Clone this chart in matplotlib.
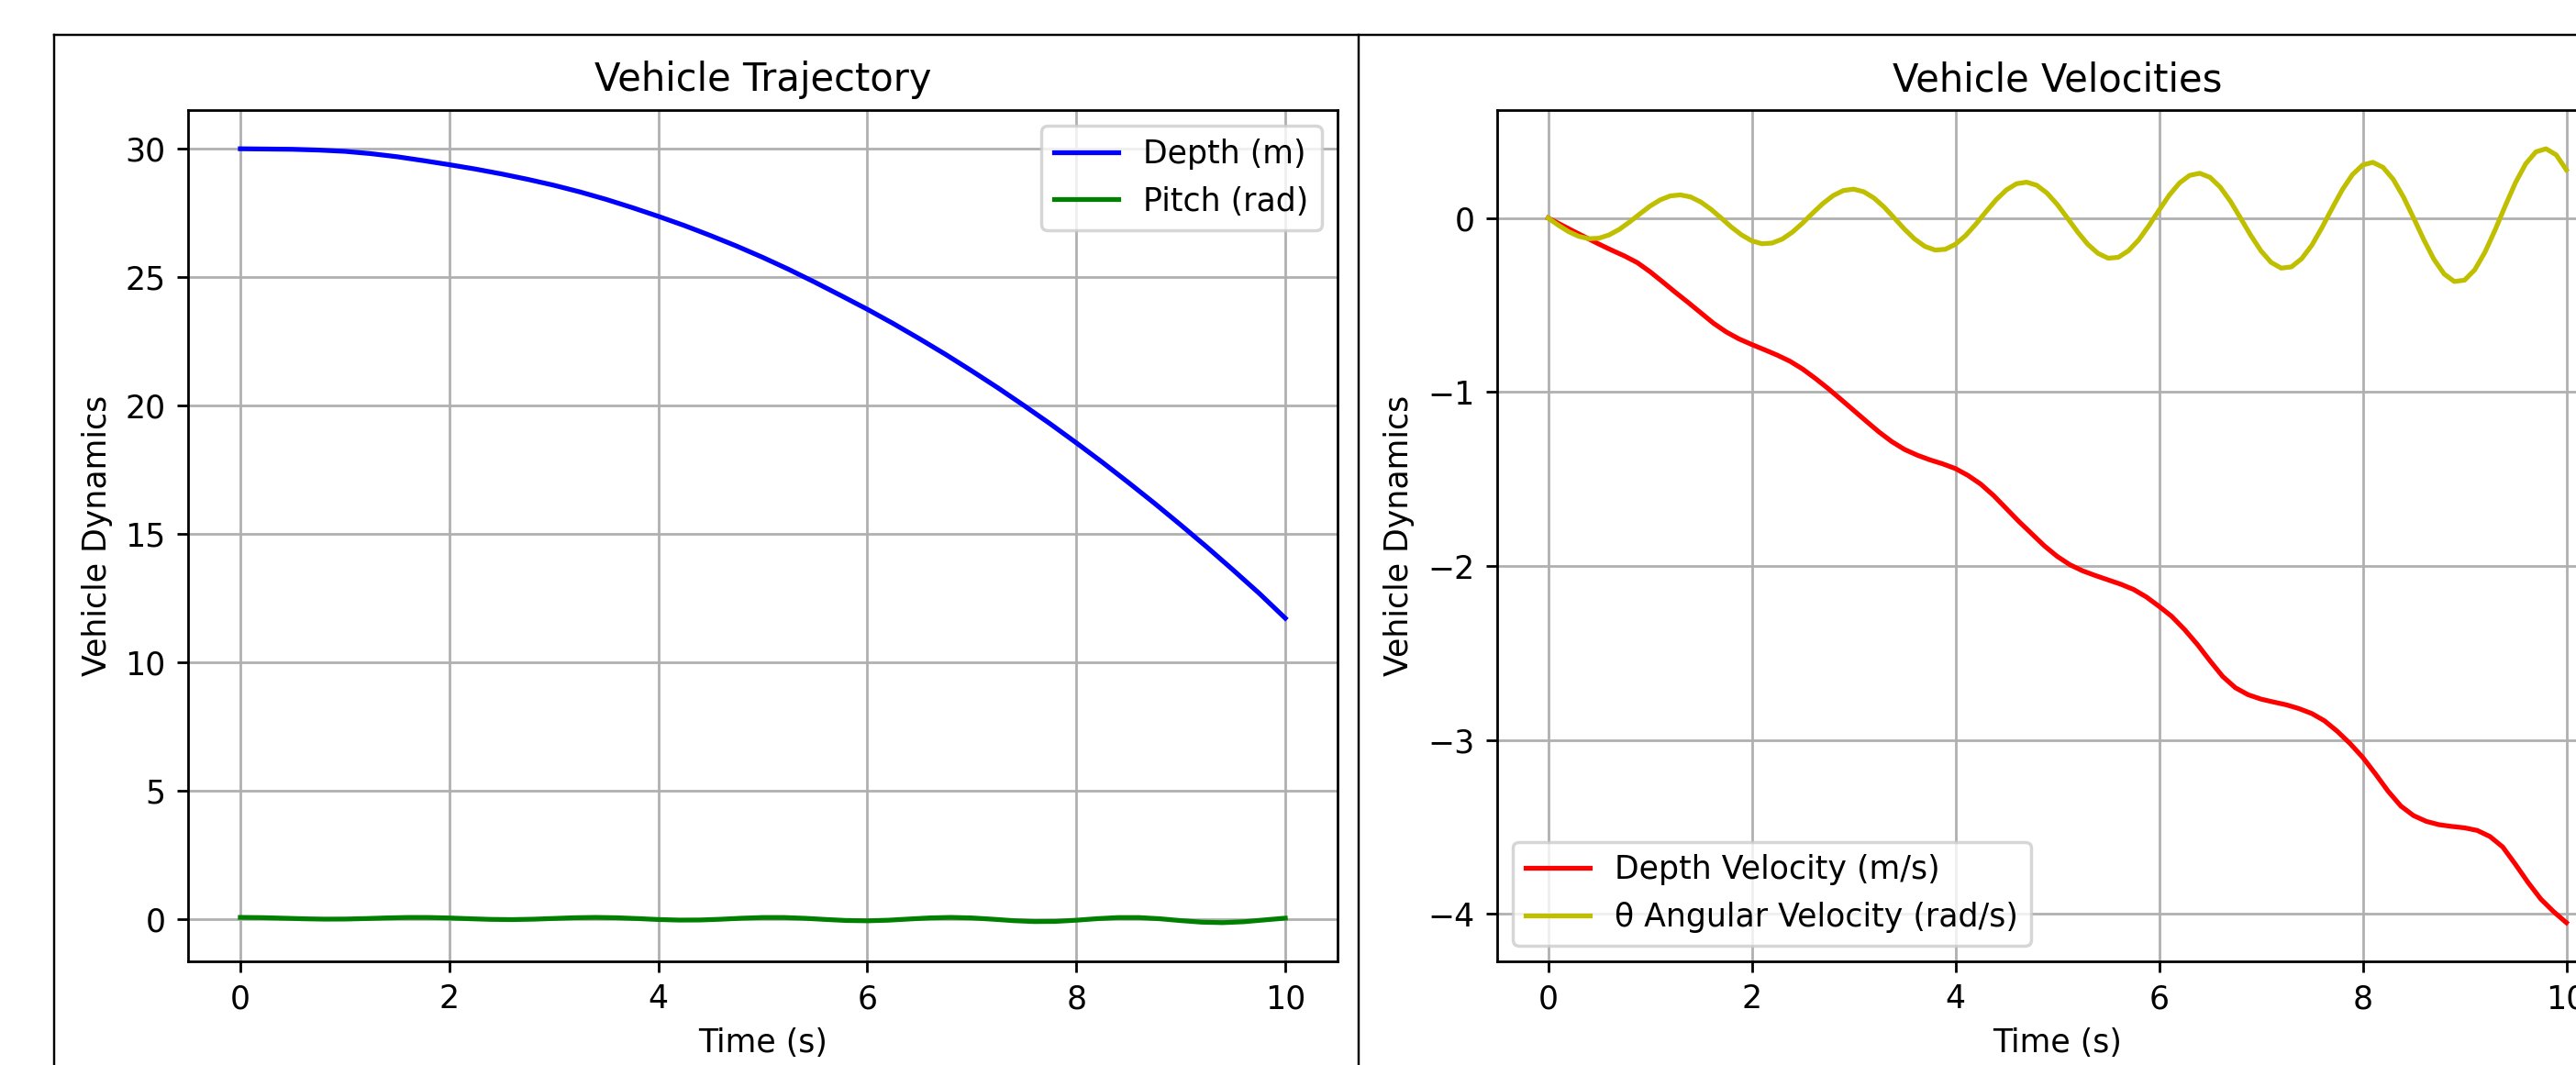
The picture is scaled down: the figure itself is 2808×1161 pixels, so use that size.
import matplotlib
matplotlib.use("Agg")
import matplotlib.pyplot as plt
import numpy as np
from matplotlib.lines import Line2D

# Time samples (s) for each series
t_depth = np.linspace(0, 10, 41)
t_pitch = np.linspace(0, 10, 51)
t_w = np.linspace(0, 10, 81)
t_q = np.linspace(0, 10, 101)

# Vehicle trajectory
depth = [30.00, 29.99, 29.98, 29.95, 29.90, 29.81, 29.69, 29.54, 29.38, 29.21,
         29.02, 28.81, 28.58, 28.32, 28.03, 27.71, 27.37, 27.01, 26.62, 26.21,
         25.77, 25.30, 24.80, 24.28, 23.75, 23.19, 22.60, 21.99, 21.35, 20.69,
         20.00, 19.29, 18.55, 17.79, 17.00, 16.19, 15.35, 14.49, 13.60, 12.69,
         11.72]

pitch = [0.070, 0.062, 0.041, 0.017, 0.003, 0.006, 0.025, 0.050, 0.068, 0.067,
         0.048, 0.018, -0.007, -0.015, 0.000, 0.029, 0.058, 0.070, 0.057, 0.025,
         -0.012, -0.034, -0.030, -0.001, 0.039, 0.066, 0.066, 0.036, -0.010, -0.050,
         -0.062, -0.039, 0.007, 0.051, 0.070, 0.050, 0.000, -0.057, -0.092, -0.085,
         -0.039, 0.021, 0.064, 0.064, 0.017, -0.054, -0.115, -0.134, -0.099, -0.028,
         0.041]

# Vehicle velocities
depth_vel = [0.000, -0.038, -0.076, -0.113, -0.150, -0.185, -0.218, -0.256, -0.308, -0.367,
             -0.427, -0.485, -0.545, -0.605, -0.655, -0.695, -0.727, -0.757, -0.788, -0.823,
             -0.868, -0.922, -0.980, -1.042, -1.105, -1.168, -1.230, -1.285, -1.330, -1.363,
             -1.390, -1.413, -1.440, -1.480, -1.530, -1.595, -1.670, -1.745, -1.815, -1.885,
             -1.945, -1.993, -2.028, -2.055, -2.080, -2.105, -2.135, -2.178, -2.232, -2.290,
             -2.365, -2.450, -2.545, -2.635, -2.700, -2.740, -2.765, -2.782, -2.798, -2.820,
             -2.848, -2.890, -2.950, -3.020, -3.100, -3.195, -3.295, -3.380, -3.435, -3.468,
             -3.487, -3.497, -3.505, -3.520, -3.555, -3.615, -3.715, -3.820, -3.915, -3.987,
             -4.050]

ang_vel = [0.000, -0.041, -0.078, -0.105, -0.119, -0.116, -0.097, -0.065, -0.023, 0.023,
           0.068, 0.104, 0.127, 0.133, 0.121, 0.092, 0.050, 0.000, -0.052, -0.097,
           -0.131, -0.148, -0.144, -0.121, -0.081, -0.029, 0.029, 0.084, 0.129, 0.158,
           0.166, 0.151, 0.115, 0.063, 0.000, -0.064, -0.121, -0.163, -0.184, -0.180,
           -0.151, -0.101, -0.036, 0.036, 0.105, 0.161, 0.197, 0.206, 0.188, 0.143,
           0.078, 0.000, -0.080, -0.151, -0.203, -0.231, -0.226, -0.188, -0.126, -0.044,
           0.045, 0.131, 0.201, 0.245, 0.257, 0.234, 0.178, 0.097, 0.000, -0.099,
           -0.188, -0.255, -0.288, -0.281, -0.234, -0.157, -0.055, 0.056, 0.163, 0.250,
           0.305, 0.320, 0.291, 0.222, 0.121, 0.000, -0.125, -0.238, -0.322, -0.365,
           -0.357, -0.298, -0.197, -0.069, 0.070, 0.203, 0.311, 0.380, 0.398, 0.363,
           0.277]

W, H, DPI = 2808, 1161, 250
fig = plt.figure(figsize=(W / DPI, H / DPI), dpi=DPI)


def px_axes(x0, x1, top, bottom):
    # axes box given in pixels measured from the top-left corner
    return fig.add_axes([x0 / W, 1 - bottom / H, (x1 - x0) / W, (bottom - top) / H])


# Frame lines around the panels (the picture is a crop)
frame = dict(color="black", linewidth=0.7, transform=fig.transFigure)
fig.add_artist(Line2D([59 / W, 1], [1 - 38 / H, 1 - 38 / H], **frame))
fig.add_artist(Line2D([59 / W, 59 / W], [0, 1 - 38 / H], **frame))
fig.add_artist(Line2D([1481 / W, 1481 / W], [0, 1 - 38 / H], **frame))

# Left: trajectory
ax1 = px_axes(205, 1458, 120, 1048)
ax1.plot(t_depth, depth, "b", label="Depth (m)")
ax1.plot(t_pitch, pitch, "g", label="Pitch (rad)")
ax1.set_xlabel("Time (s)")
ax1.set_ylabel("Vehicle Dynamics")
ax1.set_title("Vehicle Trajectory")
ax1.grid(True)
ax1.legend(loc="upper right")

# Right: velocities (cut off at the right edge)
ax2 = px_axes(1632, 2853, 120, 1048)
ax2.plot(t_w, depth_vel, "r", label="Depth Velocity (m/s)")
ax2.plot(t_q, ang_vel, "y", label="θ Angular Velocity (rad/s)")
ax2.set_xlabel("Time (s)")
ax2.set_ylabel("Vehicle Dynamics")
ax2.set_title("Vehicle Velocities")
ax2.grid(True)
ax2.legend(loc="lower left")

fig.savefig("out.png", dpi=DPI)
